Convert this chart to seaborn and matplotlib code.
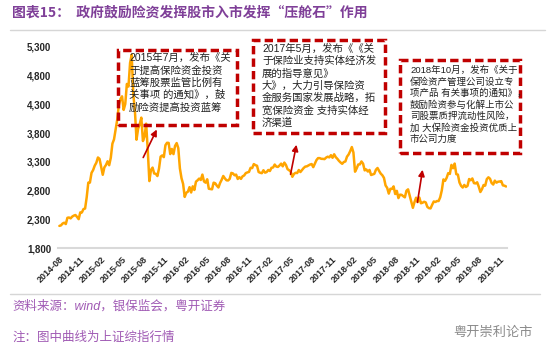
import pandas as pd
import matplotlib.pyplot as plt
import matplotlib.patches as mpatches
from matplotlib.lines import Line2D
import seaborn as sns

# 上证综指 周收盘（按年份，每周五）
sh_2014 = [2185, 2194, 2226, 2240, 2217, 2326, 2331, 2316, 2347, 2364, 2374, 2341, 2302, 2420,
           2419, 2478, 2487, 2683, 2938, 2939, 3108, 3157]
sh_2015 = [3234, 3285, 3376, 3351, 3210, 3075, 3204, 3246, 3310, 3241, 3372, 3617, 3691,
           3863, 4034, 4287, 4393, 4441, 4205, 4308, 4657, 4611, 5023, 5166, 4478, 4193,
           3686, 3877, 3957, 4070, 3663, 3744, 3965, 3507, 2965, 3160, 3200, 3097, 3092,
           3053, 3183, 3391, 3412, 3382, 3590, 3632, 3630, 3436, 3525, 3435, 3578, 3627]
sh_2016 = [3539, 3186, 3016, 2916, 2690, 2763, 2781, 2860, 2767, 2874, 2810, 2955, 2979,
           3009, 2984, 3078, 2959, 2938, 2997, 2832, 2827, 2822, 2938, 2927, 2885, 2854,
           2932, 2988, 3054, 3012, 2979, 2976, 3004, 3108, 3099, 3067, 3078, 3002, 3033, 3004,
           3048, 3063, 3104, 3116, 3125, 3196, 3192, 3261, 3243, 3232, 3123, 3110, 3103]
sh_2017 = [3154, 3112, 3123, 3159, 3140, 3196, 3202, 3253, 3218, 3212, 3237, 3269, 3222,
           3287, 3246, 3173, 3154, 3127, 3040, 3090, 3110, 3105, 3158, 3123, 3157, 3192,
           3217, 3222, 3237, 3253, 3262, 3208, 3268, 3331, 3365, 3365, 3353, 3352, 3348,
           3374, 3390, 3378, 3416, 3371, 3432, 3382, 3353, 3317, 3289, 3266, 3297, 3307]
sh_2018 = [3391, 3428, 3487, 3558, 3462, 3129, 3184, 3254, 3256, 3307, 3269, 3152, 3168,
           3131, 3159, 3071, 3082, 3091, 3163, 3193, 3141, 3095, 3067, 3021, 2889, 2847,
           2747, 2831, 2829, 2873, 2740, 2795, 2669, 2729, 2725, 2702, 2682, 2797, 2821,
           2716, 2606, 2500, 2599, 2676, 2599, 2680, 2579, 2588, 2605, 2594, 2516, 2494]
sh_2019 = [2490, 2553, 2610, 2601, 2618, 2618, 2682, 2804, 2994, 2969, 3021, 3104, 3090,
           3247, 3189, 3270, 3086, 3078, 2940, 2882, 2853, 2898, 2862, 2882, 3001, 2979,
           3011, 2930, 2924, 2944, 2868, 2775, 2824, 2897, 2886, 2999, 3031, 3006, 2932,
           2905, 2973, 2938, 2954, 2958, 2964, 2891, 2885, 2871]
first_fridays = ["2014-08-01", "2015-01-02", "2016-01-01", "2017-01-06", "2018-01-05", "2019-01-04"]

y_ticks = [1800, 2300, 2800, 3300, 3800, 4300, 4800, 5300]

title = "图表15：  政府鼓励险资发挥股市入市发挥“压舱石”作用"
note_2015 = "2015年7月，发布《关\n于提高保险资金投资\n蓝筹股票监管比例有\n关事项 的通知》，鼓\n励险资提高投资蓝筹"
note_2017 = "2017年5月，发布《《关\n于保险业支持实体经济发\n展的指导意见》\n大》，大力引导保险资\n金服务国家发展战略，拓\n宽保险资金 支持实体经\n济渠道"
note_2018 = "2018年10月，发布《关于\n保险资产管理公司设立专\n项产品 有关事项的通知》，\n鼓励险资参与化解上市公\n司股票质押流动性风险，\n加 大保险资金投资优质上\n市公司力度"
source = "资料来源：wind，银保监会，粤开证券"
note = "注：图中曲线为上证综指行情"

frames = []
for start, vals in zip(first_fridays, [sh_2014, sh_2015, sh_2016, sh_2017, sh_2018, sh_2019]):
    frames.append(pd.DataFrame({"date": pd.date_range(start, periods=len(vals), freq="W-FRI"),
                                "close": vals}))
df = pd.concat(frames, ignore_index=True)

sns.set_style("white")
plt.rcParams["font.family"] = ["Liberation Sans", "Noto Sans CJK SC"]
cjk = ["Noto Sans CJK SC", "DejaVu Sans"]

W, H = 550, 356
fig = plt.figure(figsize=(5.5, 3.56), dpi=100)
ax = fig.add_axes([58 / W, 108 / H, 449 / W, 201 / H])

sns.lineplot(data=df, x="date", y="close", color="#FFA500", linewidth=1.8, ax=ax)

ax.set_xlim(pd.Timestamp("2014-07-26"), pd.Timestamp("2019-12-03"))
ax.set_ylim(1800, 5300)
ax.set_yticks(y_ticks)
ax.set_yticklabels([f"{v:,}" for v in y_ticks], fontsize=7, fontweight="bold")
x_ticks = pd.date_range("2014-08-01", "2019-11-01", freq="3MS")
ax.set_xticks(x_ticks)
ax.set_xticklabels([d.strftime("%Y-%m") for d in x_ticks], rotation=45, ha="right",
                   rotation_mode="anchor", fontsize=6.5, fontweight="bold")
ax.tick_params(axis="both", length=0)
ax.tick_params(axis="x", pad=5)
ax.tick_params(axis="y", pad=5)
ax.set_xlabel("")
ax.set_ylabel("")
for s in ["left", "right", "top"]:
    ax.spines[s].set_visible(False)
ax.spines["bottom"].set_color("#D9D9D9")
ax.spines["bottom"].set_linewidth(1.5)

# 标题与分隔线
fig.text(12 / W, 1 - 13 / H, title, fontsize=10, fontweight="bold", color="#7F3F98",
         va="center", ha="left", family=cjk)
fig.add_artist(Line2D([10 / W, 545 / W], [1 - 30 / H, 1 - 30 / H], color="#D6D6D6", lw=1))
fig.add_artist(Line2D([10 / W, 540 / W], [1 - 294 / H, 1 - 294 / H], color="#D6D6D6", lw=1))

# 注释框
boxes = [((118, 50, 237, 125), note_2015, (129, 53), 7.5),
         ((253, 40, 385, 133), note_2017, (262, 44), 7.5),
         ((400, 60, 520, 153), note_2018, (410, 66), 6.8)]
for (x0, y0, x1, y1), txt, (tx, ty), fs in boxes:
    rect = mpatches.Rectangle((x0 / W, 1 - y1 / H), (x1 - x0) / W, (y1 - y0) / H,
                              transform=fig.transFigure, fill=False, edgecolor="#C00000",
                              linewidth=2.5, linestyle=(0, (2.4, 1.2)))
    fig.add_artist(rect)
    fig.text(tx / W, 1 - ty / H, txt, fontsize=fs, color="#222222", va="top", ha="left",
             linespacing=1.25)

# 箭头
arrows = [((142, 160), (158, 127)), ((290, 177), (297, 142)), ((417, 205), (423, 167))]
for (tx, ty), (hx, hy) in arrows:
    ax.annotate("", xy=(hx / W, 1 - hy / H), xytext=(tx / W, 1 - ty / H),
                xycoords="figure fraction", textcoords="figure fraction",
                arrowprops=dict(arrowstyle="-|>", color="#C00000", lw=1.2, mutation_scale=9))

# 来源
fig.text(12 / W, 1 - 306 / H, source, fontsize=9, color="#A05AB4", va="center", ha="left",
         style="italic")
fig.text(12 / W, 1 - 338 / H, note, fontsize=9, color="#A05AB4", va="center", ha="left",
         style="italic")
fig.text(453 / W, 1 - 333 / H, "粤开崇利论市", fontsize=9.5, color="#8A8A8A", va="center", ha="left")

fig.savefig("out.png", dpi=100)
plt.close(fig)
